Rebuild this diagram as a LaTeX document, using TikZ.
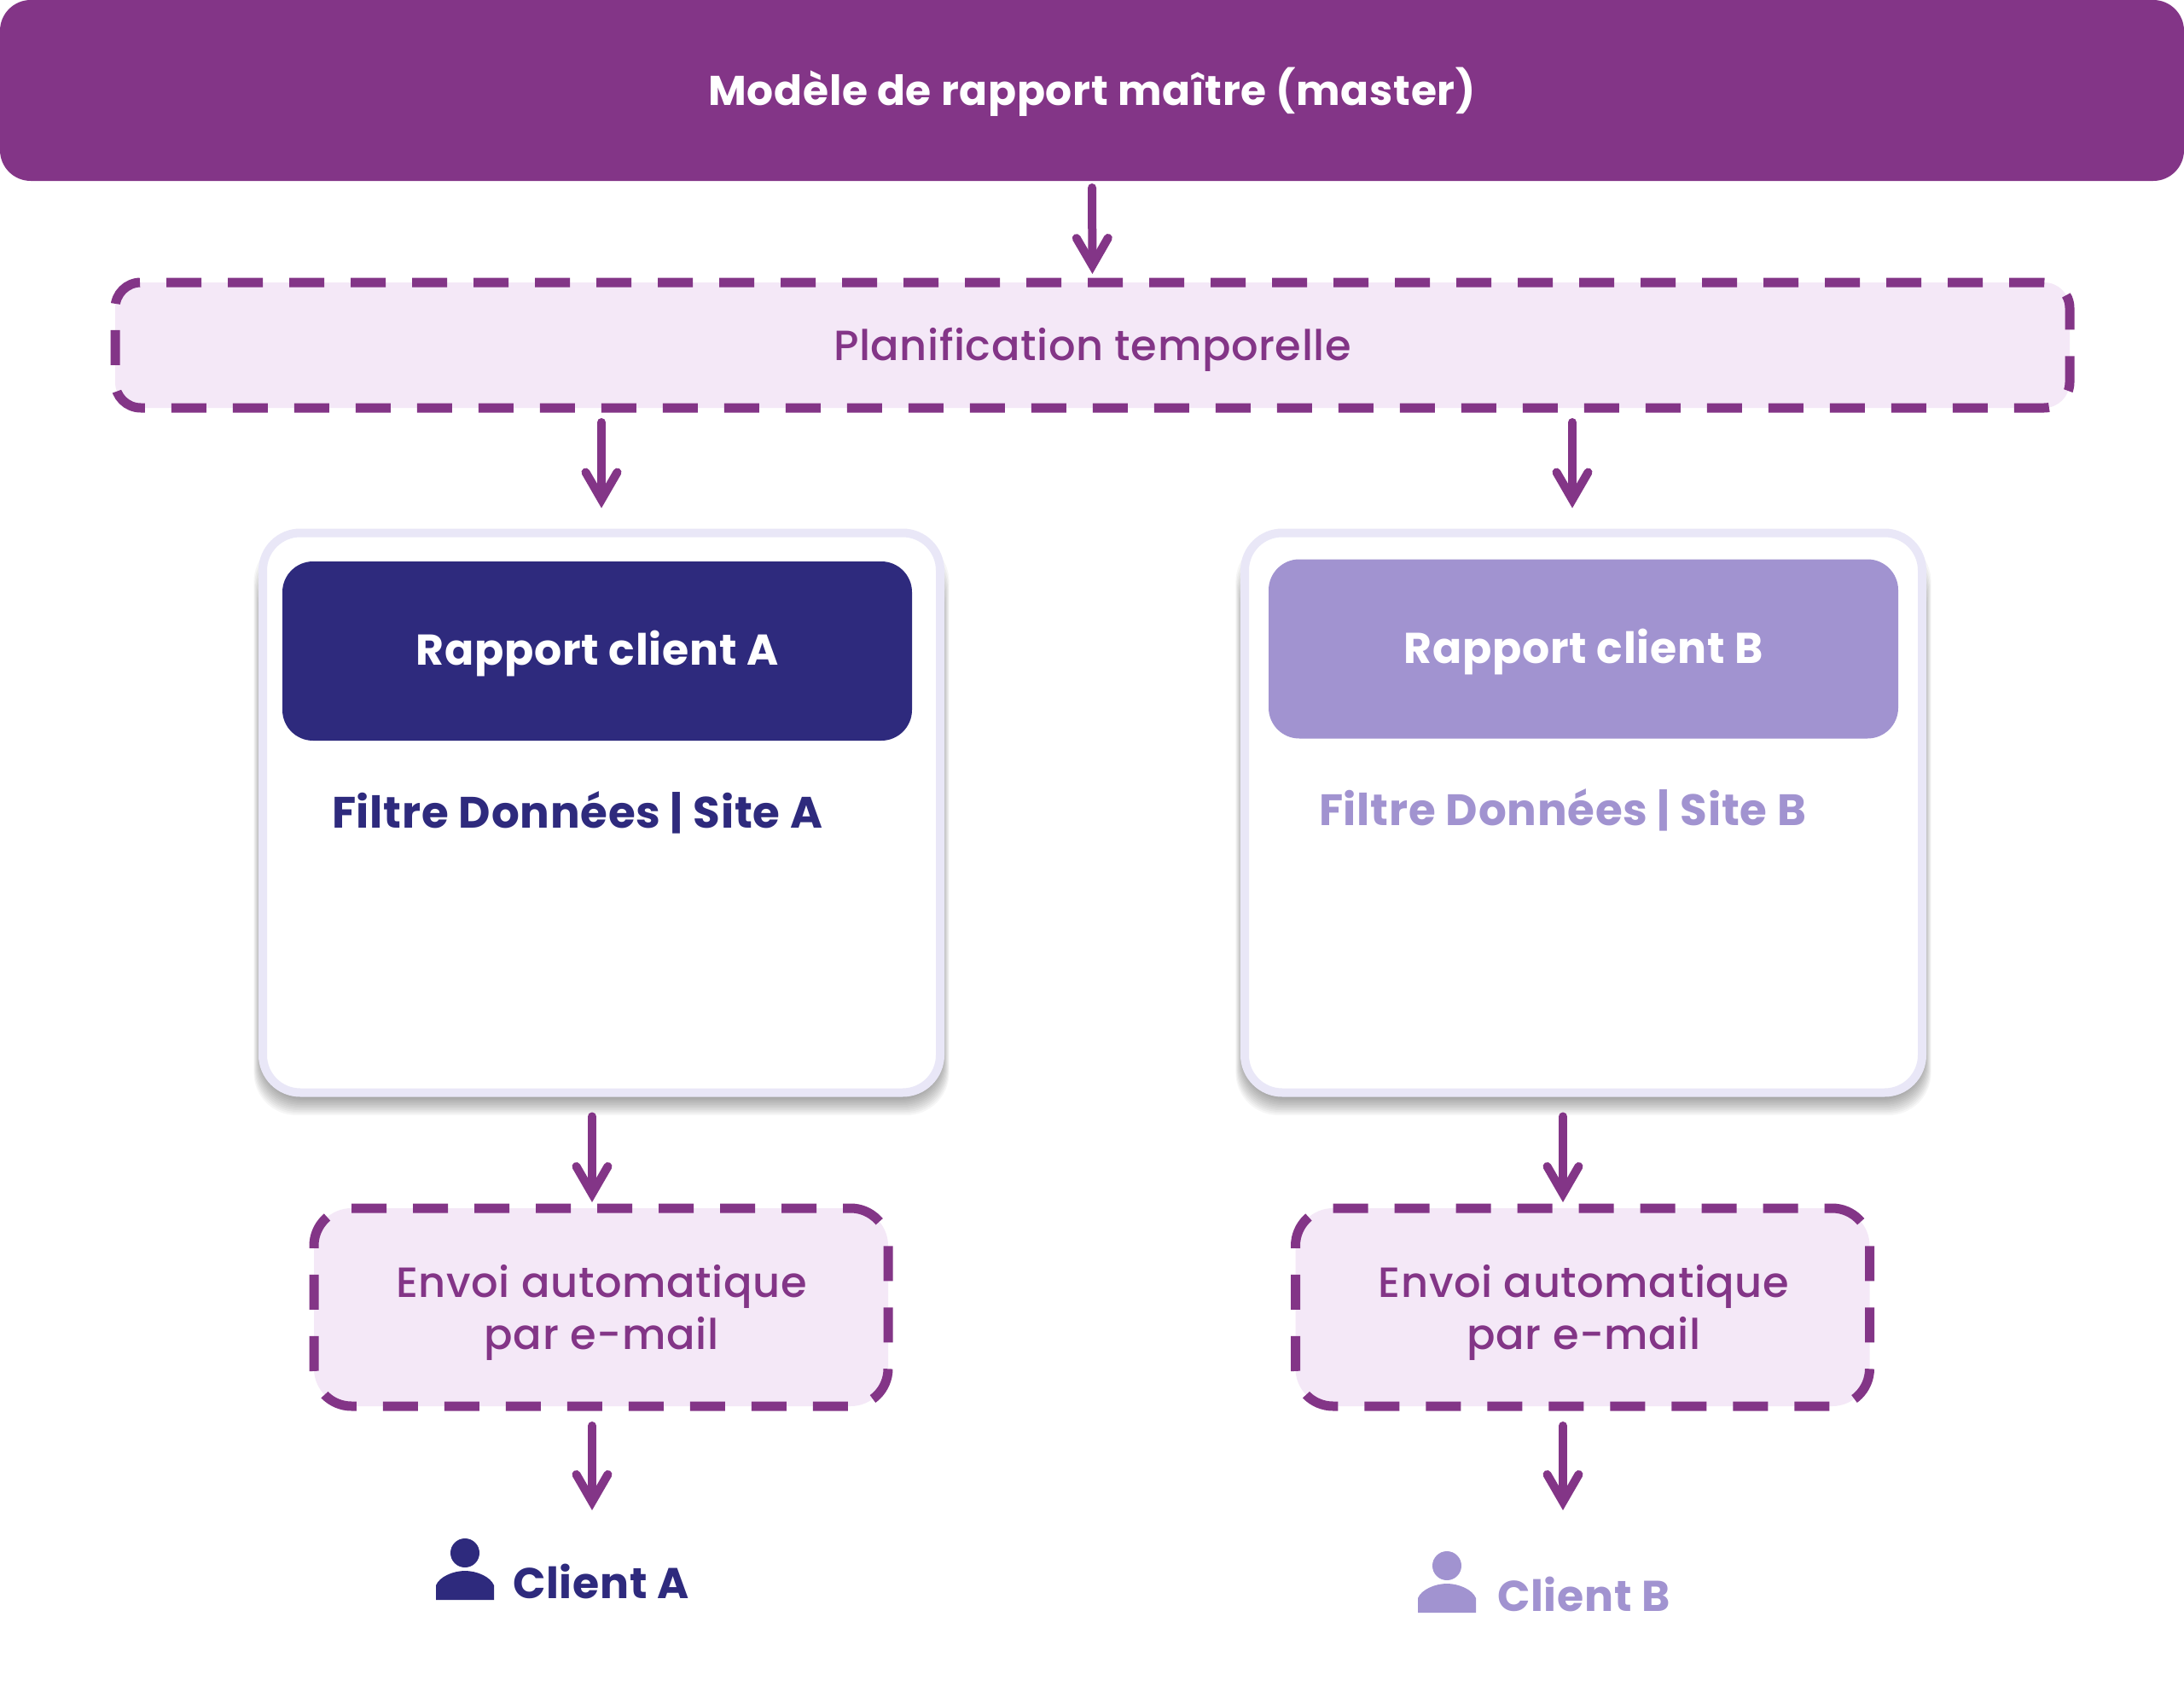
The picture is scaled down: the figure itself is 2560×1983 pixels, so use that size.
\documentclass[tikz,border=0pt]{standalone}
\usepackage{fontspec}
\setmainfont{Poppins}[LetterSpace=1.5]
\newfontfamily\medfont{Poppins Medium}[LetterSpace=1.2]
\usetikzlibrary{arrows.meta}

\definecolor{plum}{HTML}{833587}
\definecolor{plumlight}{HTML}{F4E8F7}
\definecolor{navy}{HTML}{2E2A7D}
\definecolor{lilac}{HTML}{A193D0}
\definecolor{cardedge}{HTML}{E9E7F7}

\tikzset{
  box/.style={rectangle, outer sep=0pt, inner sep=0pt, align=center},
  titlebox/.style={box, fill=#1, text=white, rounded corners=36pt, font=\fontsize{50.5}{60}\selectfont\bfseries,
    execute at begin node={\rule{0pt}{47pt}}},
  dashbox/.style={box, fill=plumlight, draw=plum, text=plum, line width=11pt,
    dash pattern=on 41pt off 31pt, rounded corners=#1, font=\fontsize{49.5}{61}\medfont},
  mailtext/.style={box, text=plum, font=\fontsize{49.5}{61}\medfont},
  cardbox/.style={box, fill=white, draw=cardedge, line width=10pt, rounded corners=44pt,
    minimum width=794pt, minimum height=656pt},
  tagtext/.style={box, anchor=west, text=#1, font=\fontsize{51.5}{58}\selectfont\bfseries},
  flow/.style={draw=plum, line width=10pt, line cap=round,
    -{Straight Barb[length=32pt, width=37pt, line cap=round, line join=miter]}},
}

\begin{document}
\begin{tikzpicture}[x=1pt, y=-1pt]
  \useasboundingbox (0,0) rectangle (2560,1983);
  \fill[white] (0,0) rectangle (2560,1983);

  \node[titlebox=plum, minimum width=2560pt, minimum height=212pt, font=\fontsize{48.7}{58}\selectfont\bfseries,
    execute at begin node={\rule{0pt}{44pt}}] (master) at (1280,106) {Modèle de rapport maître (master)};
  \node[dashbox=30pt, dash phase=0pt, minimum width=2291pt, minimum height=147pt,
    execute at begin node={\rule{0pt}{48pt}}] (plan) at (1280.5,404.5) {Planification temporelle};

  % cards
  \foreach \cx in {705,1856} {
    \foreach \r in {0,...,12}
      \fill[black, opacity=0.035, rounded corners=50pt] (\cx-398-\r*0.8,680-\r*4) rectangle (\cx+398+\r*0.8,1283+\r*2);
  }
  \node[cardbox] (cardA) at (705,952.5) {};
  \node[cardbox] (cardB) at (1856,952.5) {};

  \node[titlebox=navy, minimum width=738pt, minimum height=210pt] (headA) at (700,763) {Rapport client A};
  \node[titlebox=lilac, minimum width=738pt, minimum height=210pt] (headB) at (1856,760.5) {Rapport client B};

  \node[tagtext=navy] (filterA) at (389,952) {Filtre Données | Site A};
  \node[tagtext=lilac] (filterB) at (1546,949) {Filtre Données | Site B};

  \node[dashbox=44pt, dash phase=32pt, minimum width=673pt, minimum height=232pt] (mailA) at (704.5,1532) {};
  \node[dashbox=44pt, dash phase=32pt, minimum width=673pt, minimum height=232pt] (mailB) at (1855,1532) {};
  \node[mailtext] (mailtextA) at (705,1538) {Envoi automatique\\par e-mail};
  \node[mailtext] (mailtextB) at (1856.5,1538) {Envoi automatique\\par e-mail};

  % clients
  \node[tagtext=navy, font=\fontsize{50.5}{58}\selectfont\bfseries] (clientA) at (601,1853) {Client A};
  \node[tagtext=lilac, font=\fontsize{50.5}{58}\selectfont\bfseries] (clientB) at (1755,1868) {Client B};
  \begin{scope}[shift={(545,1820)}]
    \fill[navy] (0,0) circle (17pt); % head
    \fill[navy] (-34,55) -- (-34,38) .. controls (-30,28) and (-14,21) .. (0,21) .. controls (14,21) and (30,28) .. (34,38) -- (34,55) -- cycle; % body
  \end{scope}
  \begin{scope}[shift={(1696,1835)}]
    \fill[lilac] (0,0) circle (17pt);
    \fill[lilac] (-34,55) -- (-34,38) .. controls (-30,28) and (-14,21) .. (0,21) .. controls (14,21) and (30,28) .. (34,38) -- (34,55) -- cycle;
  \end{scope}

  % columns of the arrows
  \coordinate (inB) at (1843,600);
  \coordinate (downA) at (694,1300);
  \coordinate (downB) at (1832,1300);
  \coordinate (endA) at (694,1769);
  \coordinate (endB) at (1832,1769);

  \draw[flow, shorten <=8pt, shorten >=10pt] (master.south) -- (plan.north);
  \draw[flow, shorten <=17pt, shorten >=29pt] (plan.south -| cardA.north) -- (cardA.north);
  \draw[flow, shorten <=17pt, shorten >=29pt] (plan.south -| inB) -- (cardB.north -| inB);
  \draw[flow, shorten <=28pt, shorten >=7pt] (cardA.south -| downA) -- (mailA.north -| downA);
  \draw[flow, shorten <=28pt, shorten >=7pt] (cardB.south -| downB) -- (mailB.north -| downB);
  \draw[flow, shorten <=23pt, shorten >=-1pt] (mailA.south -| endA) -- (endA);
  \draw[flow, shorten <=23pt, shorten >=-1pt] (mailB.south -| endB) -- (endB);
\end{tikzpicture}
\end{document}
